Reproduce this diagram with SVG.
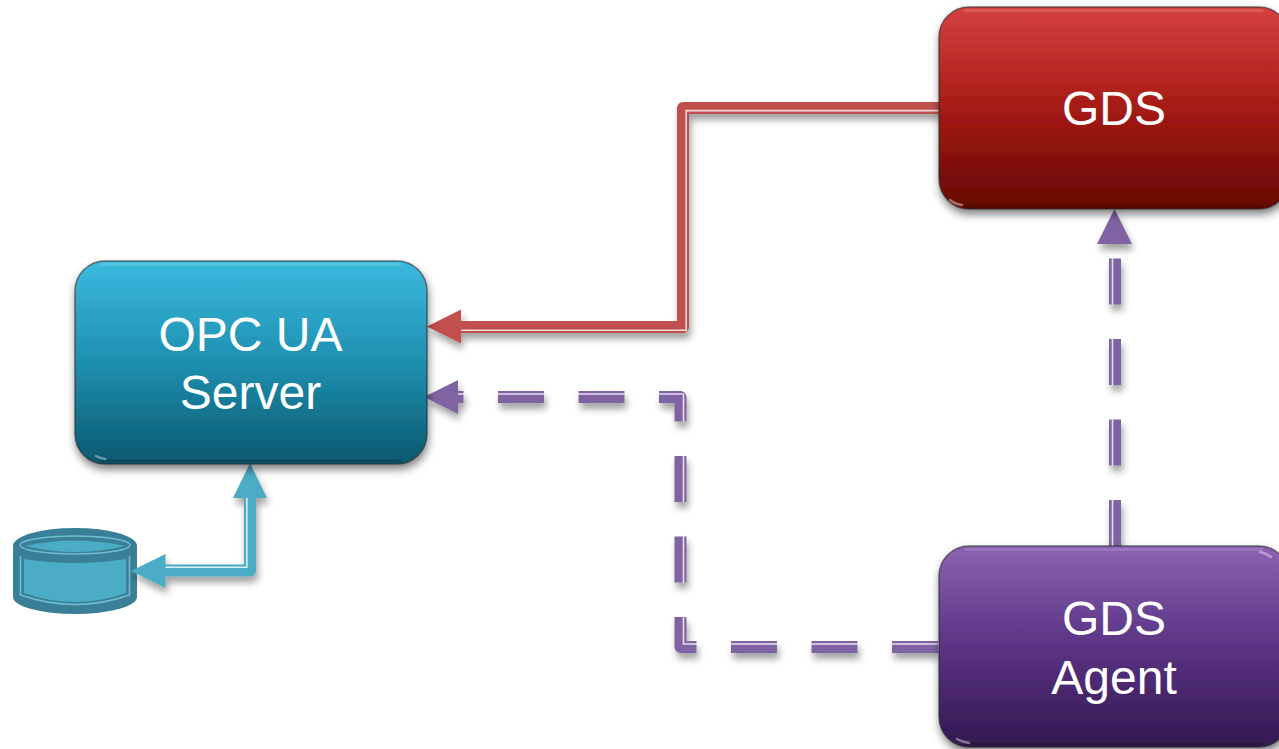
<svg xmlns="http://www.w3.org/2000/svg" width="1279" height="749" viewBox="0 0 1279 749">
<style>
.label{font-family:"Liberation Sans",Arial,sans-serif;font-size:48px;fill:#fff;text-anchor:middle}
.box{stroke:#2a2a2a;stroke-opacity:.6;stroke-width:1.5}
.hi{fill:none;stroke:#fff;stroke-opacity:.13;stroke-width:3;stroke-linecap:round}
.lo{fill:none;stroke:#000;stroke-opacity:.2;stroke-width:3;stroke-linecap:round}
.glint{fill:none;stroke:#fff;stroke-opacity:.4;stroke-width:2.5;stroke-linecap:round}
.line{fill:none;stroke-width:12;stroke-linejoin:round}
.gap{fill:none;stroke:#fff;stroke-width:1.6;stroke-opacity:.8}
.red{stroke:#c0504d}.blue{stroke:#4bacc6}.purple{stroke:#8064a2}
.dash{fill:none;stroke:#fff;stroke-width:16;stroke-dasharray:46 34.5}
.cyl-dark{fill:#3a7f98}.cyl-fill{fill:#4bacc6}
.cyl-light{fill:none;stroke:#6fbdd3;stroke-width:1.5}
</style>
<defs>
<linearGradient id="gBlue" x1="0" y1="0" x2="0" y2="1"><stop offset="0" stop-color="#3bbade"/><stop offset=".5" stop-color="#1e8fb0"/><stop offset="1" stop-color="#09596f"/></linearGradient>
<linearGradient id="gRed" x1="0" y1="0" x2="0" y2="1"><stop offset="0" stop-color="#d64141"/><stop offset=".5" stop-color="#a61b14"/><stop offset="1" stop-color="#660603"/></linearGradient>
<linearGradient id="gPurple" x1="0" y1="0" x2="0" y2="1"><stop offset="0" stop-color="#8a63b3"/><stop offset=".5" stop-color="#5a3384"/><stop offset="1" stop-color="#321950"/></linearGradient>
<filter id="shadow" x="-20%" y="-20%" width="140%" height="150%"><feDropShadow dx="1" dy="5" stdDeviation="4" flood-color="#000" flood-opacity=".5"/></filter>
<filter id="lineShadow" filterUnits="userSpaceOnUse" x="0" y="0" width="1279" height="749"><feDropShadow dx="2" dy="6" stdDeviation="3.500" flood-color="#000" flood-opacity=".36"/></filter>
<mask id="dashA" maskUnits="userSpaceOnUse" x="0" y="0" width="1279" height="749"><path class="dash" d="M938,647H680.500V397H458"/></mask>
<mask id="dashB" maskUnits="userSpaceOnUse" x="0" y="0" width="1279" height="749"><path class="dash" d="M1115,546V257"/></mask>
</defs>
<rect width="1279" height="749" fill="#fff"/>
<g id="storage">
<path class="cyl-dark" d="M13,546A62,18 0 0 1 137,546V597A62,17 0 0 1 13,597Z"/>
<path class="cyl-fill" d="M25,546Q75,535 125,546Q75,558 25,546Z"/>
<ellipse class="cyl-light" cx="75" cy="545" rx="55" ry="9"/>
<path class="cyl-fill" d="M24,559Q75,567 126,559V593Q75,611 24,593Z"/>
<path class="cyl-light" d="M20.500,556V595Q75,614 129.500,595V556"/>
</g>
<g id="connectors">
<g id="red-link" filter="url(#lineShadow)">
<path class="line red" d="M940,108H683V327H458"/>
<path class="gap" d="M940,110.600H686.200V330.200H458"/>
<polygon fill="#c0504d" points="427,326.500 461,309.500 461,343.500"/>
</g>
<g id="blue-link" filter="url(#lineShadow)">
<path class="line blue" d="M162,570.500H250V497"/>
<path class="gap" d="M162,567.300H246.800V497"/>
<polygon fill="#4bacc6" points="250,463 267,498 233,498"/>
<polygon fill="#4bacc6" points="131,571 165.500,554 165.500,588"/>
</g>
<g id="purple-link-server" filter="url(#lineShadow)">
<g mask="url(#dashA)">
<path class="line purple" d="M938,647H680.500V397H456"/>
<path class="gap" d="M938,644H683.500V394H456"/>
</g>
<polygon fill="#8064a2" points="424,397 458,380 458,414"/>
</g>
<g id="purple-link-gds" filter="url(#lineShadow)">
<g mask="url(#dashB)">
<path class="line purple" d="M1115,546V257"/>
<path class="gap" d="M1112.500,546V257"/>
</g>
<polygon fill="#8064a2" points="1114.500,209 1132,244 1097,244"/>
</g>
</g>
<g id="opc-ua-server">
<rect class="box" x="75" y="261" width="352" height="203" rx="30" fill="url(#gBlue)" filter="url(#shadow)"/>
<path class="hi" d="M102,264.500H400"/>
<path class="lo" d="M102,461H400"/>
<path class="glint" d="M96,456Q100,458 105,459"/>
<text class="label" x="250.500" y="351">OPC UA</text>
<text class="label" x="250.500" y="409">Server</text>
</g>
<g id="gds">
<rect class="box" x="939" y="7" width="350" height="202" rx="30" fill="url(#gRed)" filter="url(#shadow)"/>
<path class="hi" d="M966,10.500H1262"/>
<path class="lo" d="M966,206H1262"/>
<path class="glint" d="M950,200Q955,204 962,205"/>
<text class="label" x="1114" y="125">GDS</text>
</g>
<g id="gds-agent">
<rect class="box" x="939" y="546" width="350" height="201" rx="30" fill="url(#gPurple)" filter="url(#shadow)"/>
<path class="hi" d="M966,549.500H1262"/>
<path class="lo" d="M966,744H1262"/>
<path class="glint" d="M1260,552Q1266,553 1271,557"/>
<path class="glint" d="M957,739Q962,742 969,743"/>
<text class="label" x="1114" y="635">GDS</text>
<text class="label" x="1114" y="694">Agent</text>
</g>
</svg>
